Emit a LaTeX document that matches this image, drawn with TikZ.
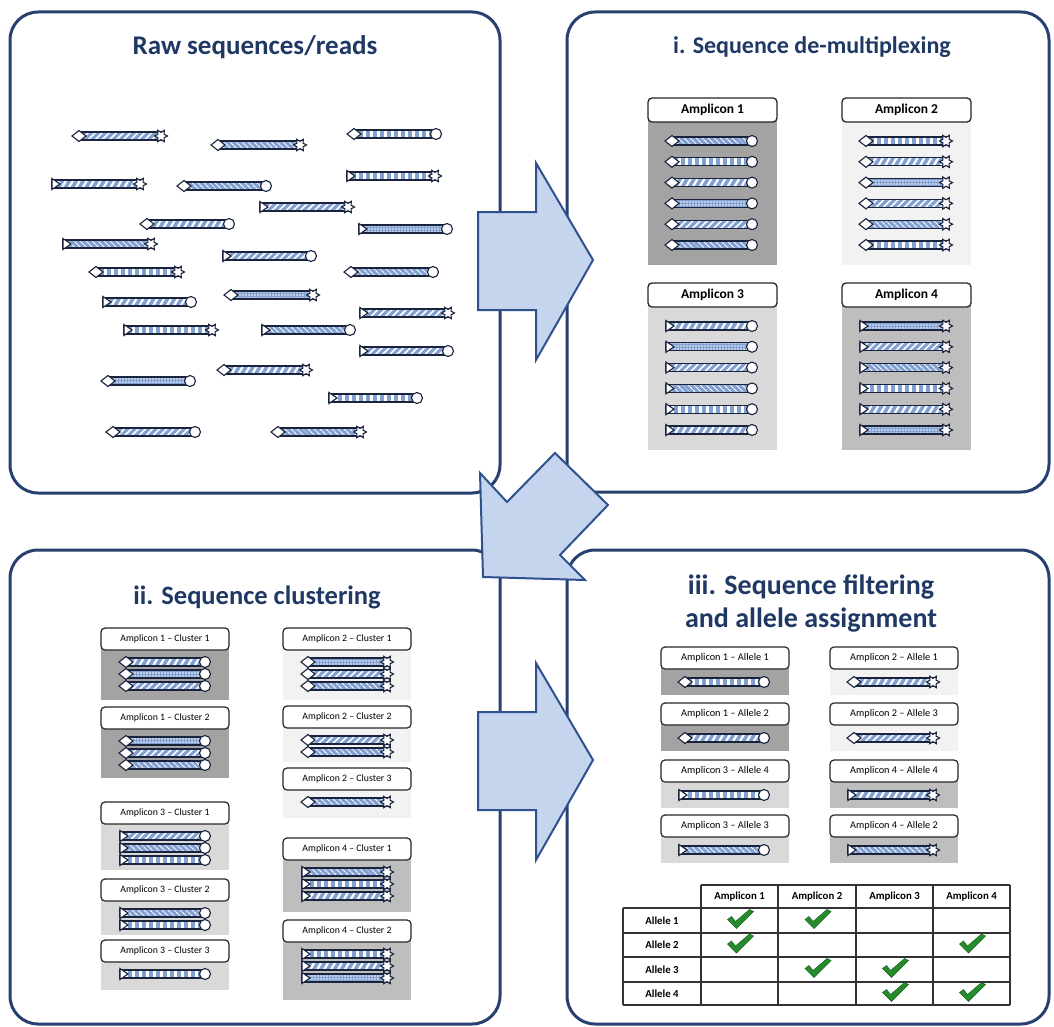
\documentclass[tikz,border=0pt]{standalone}
\usepackage{fontspec}
\setmainfont{Carlito}
\usetikzlibrary{patterns.meta}
\definecolor{panelblue}{RGB}{40,64,112}
\definecolor{titleblue}{RGB}{31,56,100}
\definecolor{arrowfill}{RGB}{197,213,237}
\definecolor{arrowline}{RGB}{47,82,143}
\definecolor{readblue}{RGB}{130,160,210}
\definecolor{readline}{RGB}{25,35,60}
\definecolor{ampgray1}{RGB}{163,163,163}
\definecolor{ampgray2}{RGB}{242,242,242}
\definecolor{ampgray3}{RGB}{217,217,217}
\definecolor{ampgray4}{RGB}{190,190,190}
\definecolor{tickgreen}{RGB}{36,140,44}
\newcommand\seqread[5]{%
\begin{scope}[shift={(#1,#2)}]
\ifnum#4<3 \def\readstart{6}\else\def\readstart{0}\fi
\path[fill=readblue,bar#5] (\readstart,-4) rectangle (#3-6,4);
\draw[readedge] (\readstart,-4) rectangle (#3-6,4);
\ifnum#4<3
\draw[readtip] (-1,0) -- (6,-5.5) -- (13,0) -- (6,5.5) -- cycle;
\else
\draw[readtip] (0,-5.5) -- (8,0) -- (0,5.5) -- cycle;
\fi
\begin{scope}[shift={(#3-6,0)}]
\ifodd#4
\draw[readtip] (0,0) circle (5.5);
\else
\draw[readtip] (0:6.5) \foreach \a in {30,90,...,330}{-- (\a:3.6) -- (\a+30:6.5)} -- cycle;
\fi
\end{scope}
\end{scope}}
\begin{document}
\begin{tikzpicture}[x=1pt,y=-1pt,panel/.style={draw=panelblue,line width=3pt,rounded corners=28pt,fill=white},title/.style={font=\fontsize{#1}{33}\selectfont\bfseries,text=titleblue},bigarrow/.style={draw=arrowline,fill=arrowfill,line width=2pt,line join=miter},amplbl/.style={draw=black!85,fill=white,rounded corners=4pt,line width=1.3pt,minimum height=24pt,inner sep=0pt,font=\fontsize{13.5}{15}\selectfont\bfseries},clulbl/.style={draw=black!85,fill=white,rounded corners=4pt,line width=1.2pt,minimum height=22pt,inner sep=0pt,font=\fontsize{#1}{11}\selectfont},readedge/.style={draw=readline,line width=1.1pt},readtip/.style={draw=readline,fill=white,line width=1.1pt},tabline/.style={draw=black!80,line width=1.3pt},tabtxt/.style={font=\fontsize{10.8}{12}\selectfont\bfseries},okmark/.style={fill=tickgreen,draw=tickgreen!70!black,line width=0.5pt},bar0/.style={postaction={pattern={Lines[angle=45,distance=5pt,line width=1.6pt]},pattern color=white}},bar1/.style={postaction={pattern={Lines[angle=-45,distance=4pt,line width=1.2pt]},pattern color=white}},bar2/.style={postaction={pattern={Lines[angle=90,distance=7pt,line width=3pt]},pattern color=white}},bar3/.style={postaction={pattern={Lines[angle=60,distance=6pt,line width=2.2pt]},pattern color=white}},bar4/.style={postaction={pattern={Dots[distance=3pt,radius=0.8pt]},pattern color=white}}]
\useasboundingbox (0,0) rectangle (1054,1027);

\draw[panel] (10,12) rectangle (500,493);
\draw[panel] (567,12) rectangle (1049,492);
\draw[panel] (10,550) rectangle (500,1024);
\draw[panel] (567,550) rectangle (1049,1024);

\node[title=27] (tRaw) at (255,47) {Raw sequences/reads};
\node[title=24] (tDemux) at (812,47) {i. Sequence de-multiplexing};
\node[title=26.5] (tClust) at (257,597) {ii. Sequence clustering};
\node[title=28,align=center] (tFilt) at (811,604) {iii. Sequence filtering\\and allele assignment};

\foreach \x/\y/\a/\b in {73/136/2/0,212/145/2/1,348/134/1/2,52/184/4/3,178/186/1/1,347/176/4/2,260/207/4/0,141/224/1/3,359/229/3/4,63/244/4/1,223/256/3/0,90/272/2/2,345/272/1/1,103/302/3/3,225/295/2/4,360/313/4/0,124/330/4/2,262/330/3/1,360/351/3/0,102/381/1/4,218/370/2/3,329/398/3/2,107/432/1/0,272/432/2/1}{
  \seqread{\x}{\y}{94}{\a}{\b}
}

\foreach \n/\x/\y in {1/648/98,2/842/98,3/648/283,4/842/283}{
  \fill[ampgray\n] (\x,\y+12) rectangle (\x+129,\y+167);
  \node[amplbl,minimum width=129pt] (amp\n) at (\x+64.5,\y+12) {Amplicon \n};
  \foreach \k in {0,...,5}{
    \pgfmathtruncatemacro\bi{mod(\k+\n,5)}
    \seqread{\x+18}{\y+43+20.8*\k}{92}{\n}{\bi}
  }
}

\foreach \x/\y/\a/\k/\r/\b in {101/628/1/1/3/700,101/707/1/2/3/778,101/802/3/1/3/870,101/879/3/2/2/935,101/940/3/3/1/990,283/628/2/1/3/700,283/706/2/2/2/762,283/768/2/3/1/818,283/838/4/1/3/912,283/920/4/2/3/1000}{
  \fill[ampgray\a] (\x,\y+11) rectangle (\x+128,\b);
  \node[clulbl=9.8,minimum width=128pt] (cl\a\k) at (\x+64,\y+11) {Amplicon \a{} -- Cluster \k};
  \foreach \j in {1,...,\r}{
    \pgfmathtruncatemacro\bi{mod(\j+\k+\a,5)}
    \seqread{\x+19}{\y+22+12*\j}{91}{\a}{\bi}
  }
}

\foreach \x/\y/\a/\l in {661/647/1/1,661/703/1/2,661/760/3/4,661/815/3/3,830/647/2/1,830/703/2/3,830/760/4/4,830/815/4/2}{
  \fill[ampgray\a] (\x,\y+11) rectangle (\x+128,\y+48);
  \node[clulbl=10.3,minimum width=128pt] (al\a\l) at (\x+64,\y+11) {Amplicon \a{} -- Allele \l};
  \pgfmathtruncatemacro\bi{mod(\a+\l,5)}
  \seqread{\x+18}{\y+35}{91}{\a}{\bi}
}

\draw[tabline] (701,885) -- (1010,885);
\foreach \yy in {908,933,957,982,1005} \draw[tabline] (623,\yy) -- (1010,\yy);
\draw[tabline] (623,908) -- (623,1005);
\foreach \xx in {701,778,856,933,1010} \draw[tabline] (\xx,885) -- (\xx,1005);
\foreach \c/\xx in {1/739.5,2/817,3/894.5,4/971.5} \node[tabtxt] (hd\c) at (\xx,896.5) {Amplicon \c};
\foreach \r/\yy in {1/920.5,2/945,3/969.5,4/993.5} \node[tabtxt] (rw\r) at (662,\yy) {Allele \r};
\foreach \c/\r in {1/1,2/1,1/2,4/2,2/3,3/3,3/4,4/4}{
  \begin{scope}[shift={(hd\c.center |- rw\r.center)}]
  \draw[okmark] (-12,-1) -- (-8,-4) -- (-4,1) -- (10,-11) -- (14,-9) -- (-3,8) -- cycle;
  \end{scope}
}

\draw[bigarrow] (478,212) -- (536,212) -- (536,163) -- (593,260) -- (536,360) -- (536,310) -- (478,310) -- cycle;
\draw[bigarrow] (478,712) -- (536,712) -- (536,663) -- (593,760) -- (536,860) -- (536,810) -- (478,810) -- cycle;
\draw[bigarrow] (480,473) -- (507,502) -- (555,453) -- (608,505) -- (560,555) -- (585,580) -- (483,577) -- cycle;
\end{tikzpicture}
\end{document}
